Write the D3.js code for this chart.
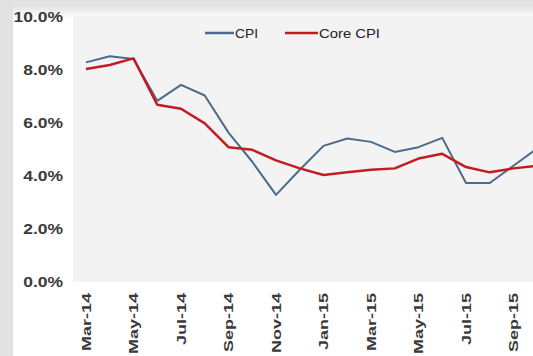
<!DOCTYPE html>
<html><head><meta charset="utf-8">
<script src="https://cdn.jsdelivr.net/npm/d3@7"></script>
<style>
html,body{margin:0;padding:0;background:#fff;}
svg{display:block;}
</style></head>
<body>
<svg id="c" width="533" height="356"></svg>
<script>
const months = ["Mar-14","Apr-14","May-14","Jun-14","Jul-14","Aug-14","Sep-14","Oct-14","Nov-14","Dec-14",
  "Jan-15","Feb-15","Mar-15","Apr-15","May-15","Jun-15","Jul-15","Aug-15","Sep-15","Oct-15"];
const cpi  = [8.25,8.48,8.38,6.8,7.4,7.0,5.6,4.5,3.25,4.2,5.1,5.38,5.25,4.87,5.05,5.4,3.7,3.7,4.35,5.0];
const core = [8.0,8.15,8.4,6.65,6.5,5.95,5.05,4.95,4.55,4.25,4.0,4.1,4.2,4.25,4.62,4.8,4.3,4.1,4.25,4.35];
const yTicks = [0,2,4,6,8,10];
const xTickLabels = ["Mar-14","May-14","Jul-14","Sep-14","Nov-14","Jan-15","Mar-15","May-15","Jul-15","Sep-15"];
const seriesNames = ["CPI","Core CPI"];
const seriesColors = ["#4c6a8c","#c21c22"];

const svg = d3.select("#c");
const W = 533, H = 356;

// backgrounds
const defs = svg.append("defs");
const g1 = defs.append("linearGradient").attr("id","topg").attr("x1",0).attr("y1",0).attr("x2",0).attr("y2",1);
g1.append("stop").attr("offset","0%").attr("stop-color","#e2e2e2");
g1.append("stop").attr("offset","100%").attr("stop-color","#ffffff");
svg.append("rect").attr("x",0).attr("y",0).attr("width",W).attr("height",H).attr("fill","#ffffff");
svg.append("rect").attr("x",0).attr("y",0).attr("width",W).attr("height",5).attr("fill","#e2e2e2");
svg.append("rect").attr("x",0).attr("y",5).attr("width",W).attr("height",14).attr("fill","url(#topg)");
svg.append("rect").attr("x",0).attr("y",0).attr("width",13).attr("height",H).attr("fill","#e2e2e2");

const x = d3.scalePoint().domain(months).range([86, 86 + 19*23.75]);
const y = d3.scaleLinear().domain([0,10]).range([281,16]);

// plot area
svg.append("rect").attr("x",73).attr("y",y(10)).attr("width",W-73).attr("height",282-y(10)).attr("fill","#f3f3f3");

// y axis
const ya = svg.append("g").attr("transform","translate(63,0)")
  .call(d3.axisLeft(y).tickValues(yTicks).tickSize(0).tickPadding(0).tickFormat(d=>d.toFixed(1)+"%"));
ya.select(".domain").remove();
ya.selectAll("text")
  .attr("x",null).attr("dy",null)
  .attr("transform","scale(1.25,1)")
  .attr("dy","0.36em")
  .style("font-family","'Liberation Sans',Arial,sans-serif")
  .style("font-weight","bold").style("font-size","14px").attr("fill","#3a3a3a");

// x axis
const xa = svg.append("g").attr("transform","translate(0,293)")
  .call(d3.axisBottom(x).tickValues(xTickLabels).tickSize(0));
xa.select(".domain").remove();
xa.selectAll("text")
  .attr("y",null).attr("dy","0.36em")
  .attr("transform","rotate(-90) scale(1.5,1)")
  .attr("text-anchor","end")
  .style("font-family","'Liberation Sans',Arial,sans-serif")
  .style("font-weight","bold").style("font-size","12px").attr("fill","#3a3a3a");

// lines
const line = d3.line().x((d,i)=>x(months[i])).y(d=>y(d));
[cpi, core].forEach((s,k)=>{
  svg.append("path").datum(s).attr("d",line).attr("fill","none")
    .attr("stroke",seriesColors[k]).attr("stroke-width",k===0?2:2.5)
    .attr("stroke-linejoin","round");
});

// legend
const legendX = [205, 285];
seriesNames.forEach((n,k)=>{
  const g = svg.append("g").attr("transform",`translate(${legendX[k]},33)`);
  g.append("line").attr("x1",0).attr("x2",k===0?29:33).attr("y1",0).attr("y2",0)
    .attr("stroke",seriesColors[k]).attr("stroke-width",2.5);
  g.append("text").attr("x",(k===0?30:34)/1.0).attr("dy","0.36em")
    .attr("transform","scale(1,1)")
    .text(n)
    .style("font-family","'Liberation Sans Narrow','Liberation Sans',Arial,sans-serif")
    .style("font-size","13px").attr("fill","#222")
    .attr("textLength", k===0?23:61).attr("lengthAdjust","spacingAndGlyphs");
});
</script>
</body></html>
